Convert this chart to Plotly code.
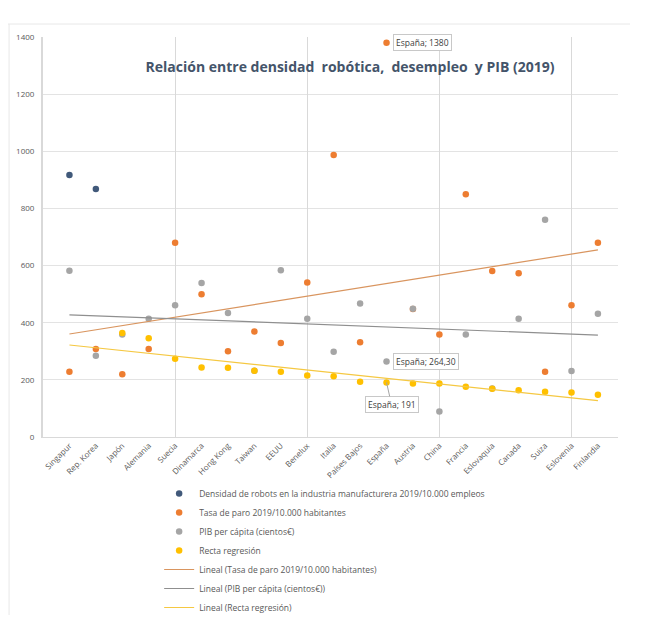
import numpy as np
import plotly.graph_objects as go

countries = ["Singapur", "Rep. Korea", "Japón", "Alemania", "Suecia", "Dinamarca",
             "Hong Kong", "Taiwan", "EEUU", "Benelux", "Italia", "Países Bajos",
             "España", "Austria", "China", "Francia", "Eslovaquia", "Canada",
             "Suiza", "Eslovenia", "Finlandia"]
x_all = list(range(1, len(countries) + 1))

# Densidad de robots (Singapur, Rep. Korea)
robots_top_x = [1, 2]
robots_top = [917, 868]

# Tasa de paro 2019 / 10.000 habitantes
paro = [228, 308, 220, 308, 680, 500, 300, 369, 329, 541, 987, 332,
        1380, 448, 359, 850, 581, 573, 228, 461, 680]

# PIB per cápita (cientos €)
pib = [582, 284, 359, 414, 461, 539, 434, 232, 584, 414, 298, 467,
       264.3, 449, 89, 359, 170, 414, 760, 231, 431]

# Recta regresión (densidad de robots del resto de países)
reg_x = list(range(3, 22))
reg = [364, 346, 274, 243, 242, 232, 228, 215, 213, 193, 191, 187,
       187, 176, 169, 164, 158, 156, 148]

y_ticks = [0, 200, 400, 600, 800, 1000, 1200, 1400]

C_BLUE = "#41597A"
C_ORANGE = "#ED7D31"
C_GREY = "#A5A5A5"
C_YELLOW = "#FFC000"
TXT = "#595959"
FONT = "Open Sans"

def fit_line(xs, ys, x_eval):
    k, b = np.polyfit(xs, ys, 1)
    return [k * v + b for v in x_eval]

line_x = [1, 21]

fig = go.Figure()
mk = dict(size=6.5)
fig.add_trace(go.Scatter(x=robots_top_x, y=robots_top, mode="markers",
                         marker=dict(color=C_BLUE, **mk),
                         name="Densidad de robots en la industria manufacturera 2019/10.000 empleos"))
fig.add_trace(go.Scatter(x=x_all, y=paro, mode="markers",
                         marker=dict(color=C_ORANGE, **mk),
                         name="Tasa de paro 2019/10.000 habitantes"))
fig.add_trace(go.Scatter(x=x_all, y=pib, mode="markers",
                         marker=dict(color=C_GREY, **mk),
                         name="PIB per cápita (cientos€)"))
fig.add_trace(go.Scatter(x=reg_x, y=reg, mode="markers",
                         marker=dict(color=C_YELLOW, **mk),
                         name="Recta regresión"))
fig.add_trace(go.Scatter(x=line_x, y=fit_line(x_all, paro, line_x), mode="lines",
                         line=dict(color="#D9955F", width=1.2),
                         name="Lineal (Tasa de paro 2019/10.000 habitantes)"))
fig.add_trace(go.Scatter(x=line_x, y=fit_line(x_all, pib, line_x), mode="lines",
                         line=dict(color="#8F8F8F", width=1.2),
                         name="Lineal (PIB per cápita (cientos€))"))
fig.add_trace(go.Scatter(x=line_x, y=fit_line(reg_x, reg, line_x), mode="lines",
                         line=dict(color="#F5C842", width=1.2),
                         name="Lineal (Recta regresión)"))

ann_font = dict(family=FONT, size=8.5, color="#404040")
sp = countries.index("España") + 1
annotations = [
    dict(x=sp, y=paro[sp - 1], text="España; 1380", showarrow=False,
         xanchor="left", xshift=6, font=ann_font, bgcolor="white",
         bordercolor="#C8C8C8", borderwidth=1, borderpad=2),
    dict(x=sp, y=pib[sp - 1], text="España; 264,30", showarrow=False,
         xanchor="left", xshift=6, font=ann_font, bgcolor="white",
         bordercolor="#C8C8C8", borderwidth=1, borderpad=2),
    dict(x=sp, y=reg[reg_x.index(sp)], text="España; 191", showarrow=True,
         arrowhead=0, arrowwidth=1, arrowcolor="#A5A5A5", ax=5, ay=22,
         font=ann_font, bgcolor="white",
         bordercolor="#C8C8C8", borderwidth=1, borderpad=2),
]

shapes = [
    dict(type="line", xref="paper", yref="paper", x0=-0.061, x1=1.021,
         y0=1.0325, y1=1.0325, line=dict(color="#E8E8E8", width=1)),
    dict(type="line", xref="paper", yref="paper", x0=-0.059, x1=-0.059,
         y0=1.0325, y1=-0.445, line=dict(color="#E8E8E8", width=1)),
]

W, H = 646, 628  # page body has an 8px margin
fig.update_layout(
    width=W, height=H,
    margin=dict(l=35, r=36, t=29, b=199, autoexpand=False),
    paper_bgcolor="white", plot_bgcolor="white",
    font=dict(family=FONT, size=8, color=TXT),
    title=dict(text="<b>Relación entre densidad  robótica,  desempleo  y PIB (2019)</b>",
               x=342 / W, xanchor="center", y=1 - 59 / H, yanchor="middle",
               font=dict(family=FONT, size=14, color="#44546A")),
    xaxis=dict(range=[0, 21.76], tickmode="array", tickvals=x_all,
               ticktext=countries, tickangle=-45, showgrid=False,
               zeroline=False, showline=True, linecolor="#D9D9D9",
               tickfont=dict(size=8, color=TXT), ticks="", automargin=False),
    xaxis2=dict(range=[0, 21.76], overlaying="x", tickmode="array",
                tickvals=[5, 10, 15, 20], showgrid=True, gridcolor="#D9D9D9",
                showticklabels=False, zeroline=False, ticks=""),
    yaxis=dict(range=[0, 1400], tickmode="array", tickvals=y_ticks,
               showgrid=True, gridcolor="#E3E3E3", zeroline=False,
               showline=True, linecolor="#D9D9D9", linewidth=2,
               tickfont=dict(size=8, color=TXT), ticks="", ticklen=0,
               ticklabelstandoff=5, automargin=False),
    legend=dict(x=0.202, y=-0.105, xanchor="left", yanchor="top",
                font=dict(family=FONT, size=8.5, color=TXT),
                bgcolor="rgba(0,0,0,0)", tracegroupgap=0),
    annotations=annotations,
    shapes=shapes,
    showlegend=True,
)
fig.add_trace(go.Scatter(x=[None], y=[None], xaxis="x2", showlegend=False,
                         hoverinfo="skip"))

fig.write_html("out.html")
